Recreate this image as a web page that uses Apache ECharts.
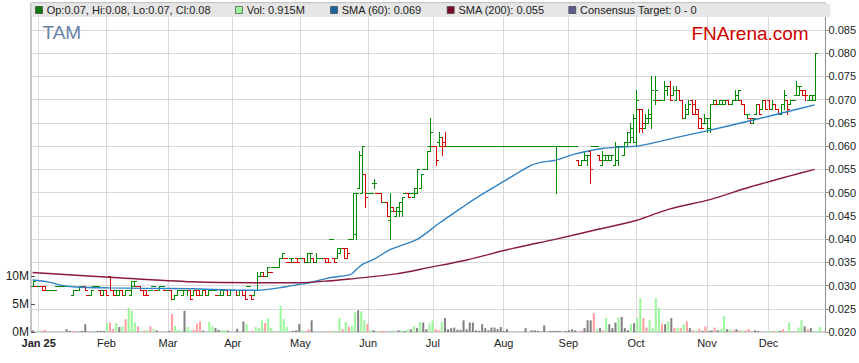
<!DOCTYPE html>
<html><head><meta charset="utf-8">
<script src="https://cdn.jsdelivr.net/npm/echarts@6/dist/echarts.min.js"></script>
<style>html,body{margin:0;padding:0;background:#fff}#c{width:859px;height:363px}</style>
</head><body><div id="c"></div>
<script>
// ---- categories: trading days shown on the chart (month, day list) ----
const monthDays = [
 ['2024-12',[30,31]],
 ['2025-01',[2,3,6,7,8,9,10,13,14,15,16,17,20,21,22,23,24,27,28,29,30,31]],
 ['2025-02',[3,4,5,6,7,10,11,12,13,14,17,18,19,20,21,24,25,26,27,28]],
 ['2025-03',[3,4,5,6,7,10,11,12,13,14,17,18,19,20,21,24,25,26,27,28,31]],
 ['2025-04',[1,2,3,4,7,8,9,10,11,14,15,16,17,18,21,22,23,24,25,28,29,30]],
 ['2025-05',[1,2,5,6,7,8,9,12,13,14,15,16,19,20,21,22,23,26,27,28,29,30]],
 ['2025-06',[2,3,4,5,6,9,10,11,12,13,16,17,18,19,20,23,24,25,26,27,30]],
 ['2025-07',[1,2,3,4,7,8,9,10,11,14,15,16,17,18,21,22,23,24,25,28,29,30,31]],
 ['2025-08',[1,4,5,6,7,8,11,12,13,14,15,18,19,20,21,22,25,26,27,28,29]],
 ['2025-09',[1,2,3,4,5,8,9,10,11,12,15,16,17,18,19,22,23,24,25,26,29,30]],
 ['2025-10',[1,2,3,6,7,8,9,10,13,14,15,16,17,20,21,22,23,24,27,28,29,30,31]],
 ['2025-11',[3,4,5,6,7,10,11,12,13,14,17,18,19,20,21,24,25,26,27,28]],
 ['2025-12',[1,2,3,4,5,8,9,10,11,12,15,16,17,18,19,22,23,24,25]]
];
const monthLabels = ['Jan 25','Feb','Mar','Apr','May','Jun','Jul','Aug','Sep','Oct','Nov','Dec'];
const priceTicks = {min:0.020, interval:0.005, lastLabel:0.085};
const volTicks = {min:0, max:10, interval:5};

// ---- OHLC (A$) ----
const opens = [
.030,.030,.030,.030,.030,.029,.029,.029,.030,.030,
.030,.030,.030,.028,.029,.029,.030,.030,.028,.028,
.030,.030,.029,.029,.029,.032,.029,.029,.028,.029,
.028,.029,.028,.030,.030,.030,.029,.029,.029,.030,
.029,.029,.030,.029,.029,.029,.027,.028,.029,.028,
.029,.029,.028,.029,.029,.028,.029,.028,.029,.029,
.028,.028,.028,.029,.028,.029,.029,.028,.029,.029,
.030,.028,.028,.029,.032,.032,.032,.033,.034,.034,
.034,.036,.036,.035,.036,.035,.036,.036,.036,.035,
.035,.036,.035,.036,.036,.036,.036,.040,.036,.036,
.037,.038,.038,.040,.040,.041,.051,.050,.054,.050,
.050,.052,.050,.050,.048,.048,.044,.047,.045,.046,
.046,.050,.050,.050,.049,.050,.051,.055,.055,.060,
.060,.060,.061,.060,.061,.060,.060,.060,.060,.060,
.060,.060,.060,.060,.060,.060,.060,.060,.060,.060,
.060,.060,.060,.060,.060,.060,.060,.060,.060,.060,
.060,.060,.060,.060,.060,.060,.060,.060,.060,.060,
.060,.060,.060,.060,.060,.060,.060,.057,.056,.057,
.057,.059,.060,.060,.058,.056,.057,.057,.057,.056,
.057,.060,.058,.060,.061,.062,.061,.068,.068,.064,
.065,.066,.070,.070,.070,.070,.072,.073,.071,.070,
.072,.070,.066,.067,.070,.069,.068,.066,.065,.065,
.064,.069,.069,.069,.069,.069,.070,.069,.070,.070,
.070,.069,.067,.066,.065,.067,.069,.068,.070,.070,
.068,.069,.068,.067,.069,.070,.069,.070,.071,.071,
.072,.072,.070,.070,.070];
const highs = [
.031,.030,.030,.030,.030,.029,.029,.029,.030,.030,
.030,.030,.030,.029,.029,.030,.030,.030,.028,.029,
.030,.030,.029,.029,.029,.032,.029,.029,.029,.029,
.029,.029,.031,.031,.030,.030,.029,.029,.029,.030,
.029,.030,.030,.029,.029,.029,.028,.029,.029,.029,
.029,.029,.029,.029,.029,.029,.029,.029,.029,.029,
.028,.029,.029,.029,.029,.029,.029,.029,.029,.029,
.030,.028,.029,.033,.033,.033,.034,.033,.034,.034,
.036,.037,.036,.035,.036,.035,.036,.036,.036,.037,
.037,.036,.037,.036,.036,.036,.036,.040,.036,.038,
.038,.038,.038,.040,.050,.050,.059,.060,.054,.050,
.050,.053,.050,.050,.048,.048,.050,.047,.047,.048,
.049,.050,.050,.050,.051,.055,.054,.055,.059,.066,
.060,.060,.063,.062,.063,.060,.060,.060,.060,.060,
.060,.060,.060,.060,.060,.060,.060,.060,.060,.060,
.060,.060,.060,.060,.060,.060,.060,.060,.060,.060,
.060,.060,.060,.060,.060,.060,.060,.060,.060,.060,
.060,.060,.060,.060,.060,.060,.060,.057,.057,.059,
.058,.059,.060,.060,.058,.059,.058,.058,.058,.061,
.060,.060,.061,.063,.065,.067,.072,.068,.068,.067,
.068,.075,.075,.070,.070,.074,.073,.074,.073,.073,
.072,.070,.069,.070,.070,.070,.068,.066,.067,.066,
.069,.070,.070,.070,.070,.070,.070,.070,.072,.072,
.070,.069,.067,.066,.066,.069,.069,.070,.070,.070,
.070,.069,.068,.069,.072,.070,.070,.070,.074,.073,
.072,.072,.071,.071,.080];
const lows = [
.030,.030,.030,.029,.029,.029,.029,.029,.030,.030,
.030,.030,.030,.028,.029,.029,.030,.029,.028,.028,
.030,.030,.028,.028,.028,.029,.028,.028,.028,.028,
.028,.029,.028,.030,.030,.029,.028,.028,.029,.030,
.029,.029,.030,.029,.029,.027,.027,.028,.029,.028,
.028,.027,.028,.028,.028,.028,.028,.028,.029,.029,
.028,.028,.028,.028,.028,.029,.028,.028,.028,.027,
.030,.027,.028,.029,.032,.032,.032,.033,.034,.034,
.034,.036,.036,.035,.035,.035,.035,.036,.035,.035,
.035,.035,.035,.036,.036,.035,.035,.040,.035,.036,
.037,.036,.036,.040,.040,.040,.051,.050,.047,.050,
.050,.051,.050,.048,.048,.045,.040,.046,.045,.045,
.045,.050,.049,.050,.049,.050,.051,.055,.055,.059,
.060,.056,.060,.058,.060,.060,.060,.060,.060,.060,
.060,.060,.060,.060,.060,.060,.060,.060,.060,.060,
.060,.060,.060,.060,.060,.060,.060,.060,.060,.060,
.060,.060,.060,.060,.060,.060,.060,.060,.060,.060,
.050,.060,.060,.060,.060,.060,.060,.056,.056,.057,
.056,.052,.060,.060,.057,.056,.057,.057,.057,.056,
.056,.060,.058,.060,.061,.061,.060,.063,.063,.064,
.065,.064,.069,.070,.070,.070,.071,.070,.071,.070,
.070,.066,.066,.067,.067,.067,.064,.064,.065,.063,
.063,.069,.069,.069,.069,.069,.069,.069,.070,.070,
.069,.067,.066,.065,.065,.067,.067,.068,.068,.068,
.068,.068,.067,.067,.068,.067,.069,.070,.071,.071,
.071,.070,.070,.070,.070];
const closes = [
.031,.030,.030,.029,.029,.029,.029,.029,.030,.030,
.030,.030,.030,.029,.029,.030,.030,.029,.028,.029,
.030,.030,.028,.029,.028,.029,.028,.029,.029,.028,
.029,.029,.031,.031,.030,.029,.028,.028,.029,.030,
.029,.030,.030,.029,.029,.027,.028,.029,.029,.029,
.029,.027,.029,.028,.028,.029,.028,.029,.029,.029,
.028,.029,.029,.028,.029,.029,.028,.029,.028,.027,
.030,.027,.029,.032,.033,.032,.034,.033,.034,.034,
.036,.037,.036,.035,.036,.035,.035,.036,.035,.037,
.037,.035,.036,.036,.036,.035,.035,.040,.035,.038,
.038,.036,.037,.040,.050,.050,.058,.060,.049,.050,
.050,.052,.050,.048,.048,.045,.046,.046,.047,.048,
.049,.050,.049,.050,.051,.055,.054,.055,.059,.063,
.060,.057,.062,.060,.060,.060,.060,.060,.060,.060,
.060,.060,.060,.060,.060,.060,.060,.060,.060,.060,
.060,.060,.060,.060,.060,.060,.060,.060,.060,.060,
.060,.060,.060,.060,.060,.060,.060,.060,.060,.060,
.060,.060,.060,.060,.060,.060,.060,.056,.057,.058,
.058,.055,.060,.060,.057,.058,.058,.058,.058,.060,
.060,.060,.061,.063,.064,.066,.070,.064,.065,.066,
.067,.072,.072,.070,.070,.073,.073,.070,.072,.072,
.070,.066,.068,.069,.067,.067,.064,.064,.066,.066,
.069,.070,.069,.070,.070,.070,.069,.070,.071,.072,
.069,.067,.067,.066,.066,.069,.067,.070,.068,.068,
.069,.068,.067,.069,.071,.068,.070,.070,.073,.073,
.071,.071,.071,.071,.080];
// ---- volume (millions of shares) and its colour code: g up, r down, n unchanged ----
const volumes = [
0.3,0,0.2,0.2,0.35,0,0,0,0,0,
0,0.5,0.2,0.2,0,0,0.2,1.4,0.2,0,
0,0.2,0.2,0.2,1.6,1.7,0.5,1.6,0.9,1.0,
2.3,4.4,3.8,1.7,1.0,0.2,0.25,0.3,1.0,0.5,
0.3,0,0,0,0.2,3.2,1.1,0.4,0.2,3.8,
0.9,0.3,0.4,1.5,1.9,0.25,0,1.8,1.0,0.7,
0.4,0.35,0.35,0.25,0,0,0.6,0,1.9,1.5,
0,0.25,0.9,0.7,2.1,1.6,2.4,0.7,0,0,
4.7,2.3,0.9,0,0.2,0.3,1.4,0.3,0,0.5,
2.1,0,0.2,0,0,0,0.2,0.2,0,2.5,
0.5,1.8,0.9,1.1,3.5,3.9,3.7,2.1,1.4,0.3,
0.3,0.2,0.2,0.2,0.2,0,0.3,0,0.3,0.3,
0.2,0.5,0.5,1.0,0.7,1.8,1.7,0.5,1.5,2.0,
0.5,0.3,1.8,2.5,0.5,0.7,0.8,0.4,0.4,2.1,
0.5,1.7,1.7,0.3,0.2,1.4,0.7,0.3,0.8,0.8,
0.5,0.9,0.2,0.5,0,0,0,0,0,0.7,
0,0.3,0.3,0.2,0,1.2,0,0.2,0.2,0.2,
0.2,0,0.2,0.3,0.5,0.3,0,0.3,0.7,2.1,
2.1,3.4,0.5,0.7,0.3,2.5,1.4,0.7,1.7,2.6,
2.7,0.7,0.3,1.4,1.6,2.5,6.1,2.5,0.8,2.1,
0.7,6.1,4.3,1.4,1.4,1.9,2.5,0.7,0.8,0.7,
1.4,1.9,0.7,0.3,0.3,0.6,0.2,1.0,0.2,0.3,
0.8,0.3,0.5,2.8,0.5,0.5,0.3,0.5,0.3,0.3,
0.3,0.5,0,0.3,0.2,0,0,0.2,0.2,0.2,
0.2,0.2,0.5,0,1.7,0,0,0.8,2.1,1.0,
0.5,0.7,0.2,0.2,0.915];
const volDirs = [
'nngrrnnnnn','nnnrnnnnrn','nnnngrrgng','rgggrgrgrg','nnnnnrgggn',
'ggrrrnnggn','nggnnnnnng','nrgggrggnn','gggnnnngnr','nngnnnrgng',
'rgrggnggrg','ngrrrngnng','ngngngnngg','rrgnnnnnnn','nnnnnnnnnn',
'nnnnnnnnnn','nnnnnnnnnn','nnnnnnnrnn','nrgnrgnnng','nnngnggrrg',
'gggrngnrgr','grnrgrnrnn','rnggngrnrg','rrnnnnnggr','gnrngnnggn','rnggg'].join('');

// ---- moving averages ----
const sma60Dates = ['2024-12-30','2025-01-07','2025-01-13','2025-01-20','2025-02-04','2025-02-19','2025-03-13','2025-04-04','2025-04-11','2025-04-24','2025-04-30','2025-05-06','2025-05-14','2025-05-23','2025-05-26','2025-05-29','2025-06-04','2025-06-11','2025-06-24','2025-07-03','2025-07-16','2025-07-18','2025-08-01','2025-08-14','2025-08-19','2025-08-26','2025-09-03','2025-09-16','2025-10-01','2025-10-08','2025-10-21','2025-11-03','2025-11-20','2025-12-09','2025-12-22'];
const sma60Vals = [0.0312,0.0308,0.0301,0.0297,0.0295,0.0294,0.0293,0.0290,0.0290,0.0297,0.0302,0.0306,0.0316,0.0323,0.0327,0.0345,0.0357,0.0377,0.0400,0.0434,0.0475,0.0484,0.0524,0.0559,0.0565,0.0570,0.0583,0.0595,0.0600,0.0606,0.0620,0.0633,0.0653,0.0674,0.0689];
const sma200Dates = ['2024-12-30','2025-02-04','2025-03-13','2025-04-11','2025-04-30','2025-05-16','2025-05-23','2025-06-13','2025-06-30','2025-07-16','2025-08-06','2025-08-26','2025-09-12','2025-10-01','2025-10-16','2025-11-04','2025-11-21','2025-12-10','2025-12-22'];
const sma200Vals = [0.0328,0.0318,0.0308,0.0306,0.0306,0.0311,0.0314,0.0325,0.0339,0.0355,0.0380,0.0400,0.0420,0.0440,0.0465,0.0485,0.0512,0.0536,0.0550];
const consensusTarget = [0, 0];

// ---------------------------------------------------------------
const cats = [];
monthDays.forEach(([m, ds]) => ds.forEach(d => cats.push(m + '-' + String(d).padStart(2, '0'))));
const isMonthStart = i => i > 0 && cats[i].slice(0, 7) !== cats[i - 1].slice(0, 7);

const FONT = "'Liberation Sans', Arial, sans-serif";
const ohlcData = opens.map((o, i) => [i, o, highs[i], lows[i], closes[i]]);
const volColors = {g: '#99f799', r: '#ff9c9c', n: '#808080'};
const volData = volumes.map((v, i) => ({value: v, itemStyle: {color: volColors[volDirs[i]]}}));

function renderOHLC(params, api) {
  const i = api.value(0), o = api.value(1), h = api.value(2), l = api.value(3), c = api.value(4);
  const di = params.dataIndex;
  const pc = di > 0 ? closes[di - 1] : c;
  const up = c > o || (c === o && c >= pc);
  const color = up ? '#008c00' : '#d80000';
  const ph = api.coord([i, h]), pl = api.coord([i, l]);
  const po = api.coord([i, o]), pcl = api.coord([i, c]);
  const x = Math.round(ph[0]) + 0.5;
  const yo = Math.round(po[1]) + 0.5, yc = Math.round(pcl[1]) + 0.5;
  const t = 2;
  const st = {stroke: color, lineWidth: 1};
  return {type: 'group', children: [
    {type: 'line', shape: {x1: x, y1: Math.round(ph[1]), x2: x, y2: Math.round(pl[1]) + 1}, style: st},
    {type: 'line', shape: {x1: x - t - 0.5, y1: yo, x2: x, y2: yo}, style: st},
    {type: 'line', shape: {x1: x, y1: yc, x2: x + t + 0.5, y2: yc}, style: st}
  ]};
}

const last = closes.length - 1;
const f = v => String(+v.toFixed(3));
const legendItems = [
  {x: 35, color: '#0a7a0a', text: `Op:${f(opens[last])}, Hi:${f(highs[last])}, Lo:${f(lows[last])}, Cl:${f(closes[last])}`},
  {x: 235, color: '#99f799', text: `Vol: ${volumes[last]}M`},
  {x: 330, color: '#1c62a3', text: `SMA (60): ${sma60Vals[sma60Vals.length - 1].toFixed(3)}`},
  {x: 446.7, color: '#7d0c2c', text: `SMA (200): ${sma200Vals[sma200Vals.length - 1].toFixed(3)}`},
  {x: 568.3, color: '#5c5c8e', text: `Consensus Target: ${consensusTarget[0]} - ${consensusTarget[1]}`}
];
const graphics = [{type: 'rect', z: 100, shape: {x: 31.5, y: 3.5, width: 799, height: 13.5}, style: {fill: '#e6e6e6'}}];
legendItems.forEach(it => {
  graphics.push({type: 'rect', z: 101, shape: {x: it.x + 0.5, y: 6.5, width: 7, height: 7}, style: {fill: it.color, stroke: '#333', lineWidth: 0.6}});
  graphics.push({type: 'text', z: 101, x: it.x + 11.7, y: 10, style: {text: it.text, font: `11px ${FONT}`, fill: '#222', verticalAlign: 'middle'}});
});
graphics.push({type: 'text', z: 101, x: 42.5, y: 32, style: {text: 'TAM', font: `19px ${FONT}`, fill: '#6b81a6', verticalAlign: 'middle'}});
graphics.push({type: 'text', z: 101, x: 691.5, y: 33, style: {text: 'FNArena.com', font: `19px ${FONT}`, fill: '#d00000', verticalAlign: 'middle'}});

const chart = echarts.init(document.getElementById('c'), null, {renderer: 'svg'});
chart.setOption({
  animation: false,
  backgroundColor: '#fff',
  grid: [
    {left: 31, right: 28, top: 3, bottom: 31, show: true, borderColor: '#8c8c8c', borderWidth: 1},
    {left: 31, right: 28, bottom: 31, height: 55.7}
  ],
  xAxis: [
    {type: 'category', gridIndex: 0, data: cats, boundaryGap: true,
     axisLine: {show: false}, axisTick: {show: false},
     axisLabel: {interval: (i) => isMonthStart(i), margin: 5, color: '#222', fontSize: 11, fontFamily: FONT,
       formatter: (v) => { const m = +v.slice(5, 7); return m === 1 ? '{b|' + monthLabels[0] + '}' : monthLabels[m - 1]; },
       rich: {b: {fontWeight: 'bold', fontSize: 11, fontFamily: FONT, color: '#222'}}},
     splitLine: {show: true, interval: (i) => isMonthStart(i), alignWithLabel: true, lineStyle: {color: '#d9d9d9', width: 1}}},
    {type: 'category', gridIndex: 1, data: cats, boundaryGap: true, show: false}
  ],
  yAxis: [
    {type: 'value', gridIndex: 0, position: 'right', min: priceTicks.min, max: 0.02 + 329 / 4646, interval: priceTicks.interval,
     axisLine: {show: false}, axisTick: {show: true, length: 3, lineStyle: {color: '#8c8c8c'}},
     axisLabel: {margin: 3, color: '#222', fontSize: 11, fontFamily: FONT, showMaxLabel: false,
       formatter: (v) => v > priceTicks.lastLabel + 0.0001 ? '' : v.toFixed(3)},
     splitLine: {show: true, lineStyle: {color: '#d9d9d9', width: 1}}},
    {type: 'value', gridIndex: 1, position: 'left', min: volTicks.min, max: volTicks.max, interval: volTicks.interval,
     axisLine: {show: false}, axisTick: {show: true, inside: true, length: 4, lineStyle: {color: '#555'}},
     axisLabel: {margin: 2, color: '#222', fontSize: 12, fontFamily: FONT, formatter: (v) => v + 'M'},
     splitLine: {show: false}}
  ],
  series: [
    {type: 'bar', xAxisIndex: 1, yAxisIndex: 1, data: volData, barWidth: 2, z: 1},
    {type: 'custom', xAxisIndex: 0, yAxisIndex: 0, data: ohlcData, renderItem: renderOHLC,
     encode: {x: 0, y: [1, 2, 3, 4]}, z: 3},
    {type: 'line', xAxisIndex: 0, yAxisIndex: 0, data: sma60Dates.map((d, i) => [d, sma60Vals[i]]),
     smooth: 0.3, showSymbol: false, lineStyle: {color: '#2f82c4', width: 1.4}, z: 4},
    {type: 'line', xAxisIndex: 0, yAxisIndex: 0, data: sma200Dates.map((d, i) => [d, sma200Vals[i]]),
     smooth: 0.3, showSymbol: false, lineStyle: {color: '#8a1a40', width: 1.4}, z: 4}
  ],
  graphic: graphics
});
</script>
</body></html>
